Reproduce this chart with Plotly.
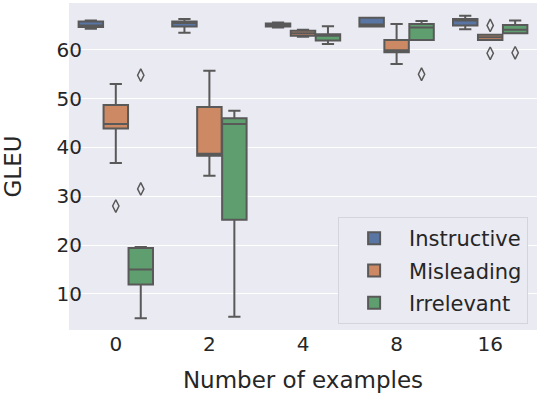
import plotly.graph_objects as go

# x categories and hue groups
examples = ['0', '2', '4', '8', '16']
groups = ['Instructive', 'Misleading', 'Irrelevant']
colors = {'Instructive': '#5875a4', 'Misleading': '#cc8963', 'Irrelevant': '#5f9e6e'}

# box statistics per group, one value per category
q1 = {
    'Instructive': [64.7, 64.8, 64.8, 64.8, 65.0],
    'Misleading': [43.9, 38.3, 62.9, 59.5, 62.0],
    'Irrelevant': [11.9, 25.2, 61.9, 62.0, 63.4],
}
median = {
    'Instructive': [65.0, 65.5, 65.1, 65.2, 66.0],
    'Misleading': [44.8, 38.7, 63.4, 59.9, 62.6],
    'Irrelevant': [15.0, 44.8, 62.9, 64.6, 64.1],
}
q3 = {
    'Instructive': [65.8, 65.8, 65.4, 66.6, 66.3],
    'Misleading': [48.7, 48.3, 63.9, 62.0, 63.1],
    'Irrelevant': [19.4, 46.0, 63.2, 65.3, 65.1],
}
low = {
    'Instructive': [64.3, 63.5, 64.6, 64.8, 64.2],
    'Misleading': [36.8, 34.2, 62.7, 57.1, 62.0],
    'Irrelevant': [5.0, 5.3, 61.2, 62.0, 63.4],
}
high = {
    'Instructive': [66.0, 66.3, 65.6, 66.6, 67.0],
    'Misleading': [53.0, 55.7, 64.1, 65.3, 63.1],
    'Irrelevant': [19.6, 47.5, 64.85, 65.9, 66.0],
}
# outliers: (category index, value)
outliers = {
    'Instructive': [],
    'Misleading': [(0, 28.0), (4, 65.0), (4, 59.3)],
    'Irrelevant': [(0, 54.8), (0, 31.5), (3, 55.0), (4, 59.4)],
}

edge = '#595959'
box_w = 0.8 / 3
offsets = {g: (i - 1) * box_w for i, g in enumerate(groups)}

fig = go.Figure()

for g in groups:
    for i in range(len(examples)):
        fig.add_trace(go.Box(
            x=[i + offsets[g]],
            q1=[q1[g][i]], median=[median[g][i]], q3=[q3[g][i]],
            lowerfence=[low[g][i]], upperfence=[high[g][i]],
            width=box_w * 0.98,
            whiskerwidth=0.5,
            fillcolor=colors[g],
            line=dict(color=edge, width=2),
            boxpoints=False,
            name=g,
            legendgroup=g,
            showlegend=(i == 0),
            hoverinfo='skip',
        ))
    if outliers[g]:
        fig.add_trace(go.Scatter(
            x=[c + offsets[g] for c, _ in outliers[g]],
            y=[v for _, v in outliers[g]],
            mode='markers',
            marker=dict(symbol='diamond-tall-open', size=9,
                        color=edge, line=dict(color=edge, width=1.5)),
            showlegend=False,
            hoverinfo='skip',
        ))

fig.update_layout(
    width=540, height=396,
    margin=dict(l=69, r=3, t=3, b=66),
    plot_bgcolor='#EAEAF2',
    paper_bgcolor='white',
    font=dict(family='DejaVu Sans', size=20, color='#262626'),
    showlegend=True,
    legend=dict(
        x=0.981, y=0.018, xanchor='right', yanchor='bottom',
        bgcolor='#EAEAF2', bordercolor='#d4d4dc', borderwidth=1,
        font=dict(size=21), itemwidth=60, tracegroupgap=2,
    ),
)
fig.update_xaxes(
    range=[-0.5, 4.5], automargin=False,
    tickvals=list(range(len(examples))), ticktext=examples,
    showgrid=False, zeroline=False, ticks='',
    title=dict(text='Number of examples', font=dict(size=23), standoff=16),
)
fig.update_yaxes(
    range=[2.6, 69.6], automargin=False, tickvals=[10, 20, 30, 40, 50, 60],
    gridcolor='white', gridwidth=1.2, zeroline=False, ticks='', ticklen=0,
    ticklabelstandoff=-14,
    title=dict(text='GLEU', font=dict(size=23), standoff=30),
)

# drop the page's default body margin so the figure sits at the window origin
fig.write_html('out.html', config={'displayModeBar': False},
               post_script="document.body.style.margin='0';")
